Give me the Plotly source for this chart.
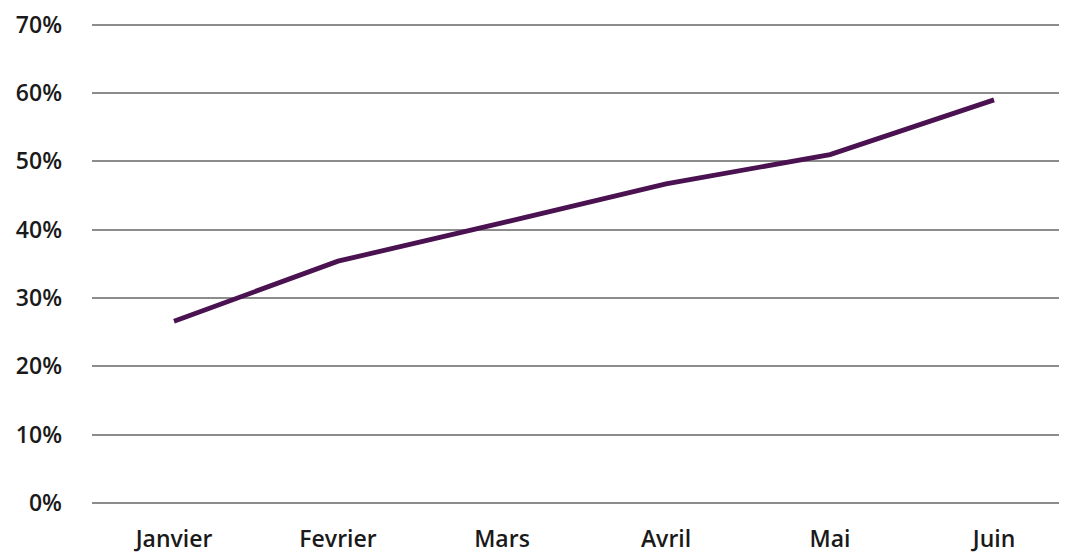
import plotly.graph_objects as go

months = ["Janvier", "Fevrier", "Mars", "Avril", "Mai", "Juin"]
values = [0.266, 0.354, 0.410, 0.467, 0.510, 0.590]
y_ticks = [0, 0.1, 0.2, 0.3, 0.4, 0.5, 0.6, 0.7]
y_tick_labels = ["0%", "10%", "20%", "30%", "40%", "50%", "60%", "70%"]

fig = go.Figure()
fig.add_trace(go.Scatter(
    x=list(range(len(months))), y=values, mode="lines",
    line=dict(color="#4a1250", width=4.8),
    hoverinfo="skip", showlegend=False,
))

font = dict(family="Open Sans", size=23, color="#1a1a1a", weight=600)

fig.update_layout(
    width=1059, height=546,
    margin=dict(l=84, r=0, t=11, b=50, pad=0),
    paper_bgcolor="white", plot_bgcolor="white",
    xaxis=dict(
        range=[-0.5, 5.445], tickmode="array",
        tickvals=list(range(len(months))), ticktext=months,
        showgrid=False, zeroline=False, showline=False,
        ticks="", tickfont=font, ticklabelstandoff=20,
        ticklabeloverflow="allow",
    ),
    yaxis=dict(
        range=[0, 0.704], tickmode="array",
        tickvals=y_ticks, ticktext=y_tick_labels,
        showgrid=True, gridcolor="#8c8c8c", gridwidth=2,
        zeroline=True, zerolinecolor="#8c8c8c", zerolinewidth=2,
        showline=False, ticks="", tickfont=font, ticklabelstandoff=29,
        ticklabeloverflow="allow",
    ),
)

fig.write_html("out.html")
